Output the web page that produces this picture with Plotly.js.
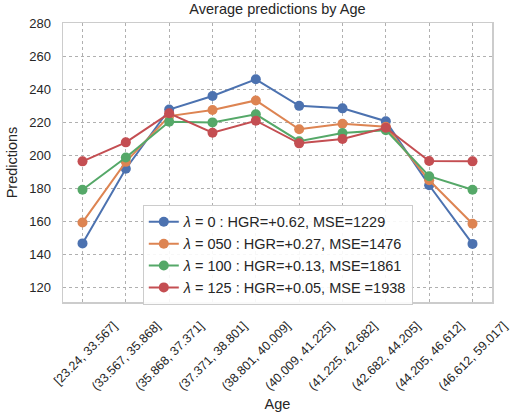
<!DOCTYPE html>
<html>
<head>
<meta charset="utf-8">
<script src="https://cdn.plot.ly/plotly-3.0.1.min.js"></script>
<style>html,body{margin:0;padding:0;background:#fff;}#chart{width:511px;height:420px;}</style>
</head>
<body>
<div id="chart"></div>
<script>
const categories = ["[23.24, 33.567]", "(33.567, 35.868]", "(35.868, 37.371]", "(37.371, 38.801]", "(38.801, 40.009]", "(40.009, 41.225]", "(41.225, 42.682]", "(42.682, 44.205]", "(44.205, 46.612]", "(46.612, 59.017]"];
const lambda0 = [146.5, 191.7, 227.6, 235.8, 245.9, 229.8, 228.3, 220.5, 181.7, 146.2];
const lambda050 = [159.2, 195.9, 223.6, 227.3, 233.1, 215.6, 219.0, 217.1, 184.7, 158.4];
const lambda100 = [179.0, 198.5, 220.2, 219.8, 224.7, 208.4, 213.3, 215.1, 187.2, 179.0];
const lambda125 = [196.2, 207.7, 225.3, 213.5, 220.8, 207.1, 209.7, 216.5, 196.4, 196.2];
const seriesNames = [
  "<i>λ</i> = 0 : HGR=+0.62, MSE=1229",
  "<i>λ</i> = 050 : HGR=+0.27, MSE=1476",
  "<i>λ</i> = 100 : HGR=+0.13, MSE=1861",
  "<i>λ</i> = 125 : HGR=+0.05, MSE =1938"
];
const colors = ["#4C72B0", "#DD8452", "#55A868", "#C44E52"];
const yTicks = [120, 140, 160, 180, 200, 220, 240, 260, 280];

const allSeries = [lambda0, lambda050, lambda100, lambda125];
const traces = allSeries.map((vals, i) => ({
  x: categories,
  y: vals,
  type: "scatter",
  mode: "lines+markers",
  name: seriesNames[i],
  line: {color: colors[i], width: 2},
  marker: {color: colors[i], size: 10}
}));

const layout = {
  width: 511, height: 420,
  margin: {l: 63, r: 19, t: 23, b: 118},
  paper_bgcolor: "#fff", plot_bgcolor: "#fff",
  font: {family: "Liberation Sans, Arial, sans-serif", color: "#262626", size: 13},
  title: {text: "Average predictions by Age", xref: "paper", x: 0.5, xanchor: "center", y: 0.99, yanchor: "top", font: {size: 14.5, color: "#262626"}},
  xaxis: {
    type: "category",
    range: [-0.45, 9.45],
    tickangle: -45,
    ticklabelshift: 31,
    ticklabelstandoff: 10,
    tickfont: {size: 12.5, color: "#262626"},
    showgrid: true, gridcolor: "#b0b0b0", griddash: "dot", gridwidth: 1,
    showline: true, linecolor: "#cccccc", linewidth: 1.5, mirror: true,
    ticks: "", zeroline: false, automargin: false,
    title: {text: "Age", font: {size: 14.5, color: "#262626"}, standoff: 6}
  },
  yaxis: {
    range: [111, 280],
    tickvals: yTicks,
    tickfont: {size: 13, color: "#262626"},
    ticklabelstandoff: 8,
    showgrid: true, gridcolor: "#b0b0b0", griddash: "dot", gridwidth: 1,
    showline: true, linecolor: "#cccccc", linewidth: 1.5, mirror: true,
    ticks: "", zeroline: false, automargin: false,
    title: {text: "Predictions", font: {size: 14.5, color: "#262626"}, standoff: 8}
  },
  showlegend: true,
  legend: {
    x: 0.186, y: 0.348, xanchor: "left", yanchor: "top",
    bgcolor: "rgba(255,255,255,0.9)", bordercolor: "#cccccc", borderwidth: 1,
    font: {size: 14.5, color: "#262626"},
    tracegroupgap: 0
  }
};

Plotly.newPlot("chart", traces, layout, {displayModeBar: false, staticPlot: true});
</script>
</body>
</html>
